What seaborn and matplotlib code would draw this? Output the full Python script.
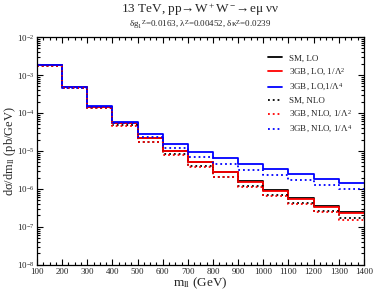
import numpy as np
import pandas as pd
import matplotlib
matplotlib.use("Agg")
import matplotlib.pyplot as plt
import matplotlib.ticker as mticker
import seaborn as sns

# bin edges in m_ll (GeV)
EDGES = [100, 200, 300, 400, 500, 600, 700, 800, 900, 1000, 1100, 1200, 1300, 1400]

# dsigma/dm_ll per bin (pb/GeV)
SM_LO = [1.85e-3, 4.75e-4, 1.48e-4, 5.4e-5, 2.2e-5, 1.0e-5, 5.2e-6, 2.85e-6, 1.6e-6, 9.5e-7, 5.75e-7, 3.6e-7, 2.45e-7]
GB_LO_2 = [1.83e-3, 4.74e-4, 1.47e-4, 5.36e-5, 2.16e-5, 9.8e-6, 5.05e-6, 2.75e-6, 1.53e-6, 9.0e-7, 5.45e-7, 3.42e-7, 2.3e-7]
GB_LO_4 = [1.85e-3, 4.8e-4, 1.52e-4, 5.9e-5, 2.8e-5, 1.56e-5, 9.6e-6, 6.43e-6, 4.55e-6, 3.3e-6, 2.48e-6, 1.87e-6, 1.47e-6]
SM_NLO = [1.78e-3, 4.5e-4, 1.34e-4, 4.7e-5, 1.75e-5, 8.1e-6, 3.95e-6, 2.1e-6, 1.2e-6, 7.0e-7, 4.15e-7, 2.6e-7, 1.7e-7]
GB_NLO_2 = [1.77e-3, 4.47e-4, 1.33e-4, 4.63e-5, 1.72e-5, 8.0e-6, 3.87e-6, 2.03e-6, 1.15e-6, 6.66e-7, 3.95e-7, 2.44e-7, 1.53e-7]
GB_NLO_4 = [1.8e-3, 4.6e-4, 1.45e-4, 5.4e-5, 2.3e-5, 1.18e-5, 7.1e-6, 4.55e-6, 3.16e-6, 2.33e-6, 1.73e-6, 1.3e-6, 1.0e-6]

SERIES = [
    ("SM, LO", SM_LO, "black", "-"),
    ("3GB, LO, 1/Λ$^2$", GB_LO_2, "#ff0000", "-"),
    ("3GB, LO,1/Λ$^4$", GB_LO_4, "#0000ff", "-"),
    ("SM, NLO", SM_NLO, "black", ":"),
    ("3GB, NLO, 1/Λ$^2$", GB_NLO_2, "#ff0000", ":"),
    ("3GB, NLO, 1/Λ$^4$", GB_NLO_4, "#0000ff", ":"),
]


def make_steps(vals):
    # repeat last value so steps-post reaches the last edge
    return pd.DataFrame({"m": EDGES, "v": list(vals) + [vals[-1]]})


sns.set_theme(style="ticks")
plt.rcParams["font.family"] = ["Liberation Serif", "DejaVu Serif"]
plt.rcParams["mathtext.fontset"] = "custom"
plt.rcParams["mathtext.rm"] = "Liberation Serif"
plt.rcParams["mathtext.it"] = "Liberation Serif:italic"
plt.rcParams["mathtext.default"] = "regular"

fig = plt.figure(figsize=(3.74, 2.94), dpi=100)
ax = fig.add_axes([0.099, 0.099, 0.874, 0.775])

for label, vals, color, ls in SERIES:
    sns.lineplot(data=make_steps(vals), x="m", y="v", ax=ax, color=color,
                 linestyle=ls, linewidth=1.3, drawstyle="steps-post",
                 estimator=None, label=label)

ax.set_yscale("log")
ax.set_xlim(100, 1400)
ax.set_ylim(1e-8, 1e-2)

ax.xaxis.set_major_locator(mticker.MultipleLocator(100))
ax.xaxis.set_minor_locator(mticker.MultipleLocator(25))
ax.yaxis.set_major_locator(mticker.LogLocator(base=10, numticks=10))
ax.yaxis.set_minor_locator(mticker.LogLocator(base=10, subs=np.arange(2, 10), numticks=10))
ax.yaxis.set_major_formatter(mticker.LogFormatterMathtext())
ax.yaxis.set_minor_formatter(mticker.NullFormatter())

ax.tick_params(which="both", direction="in", top=True, right=True, color="black", width=0.8)
ax.tick_params(which="major", length=4, labelsize=6.5, pad=2)
ax.tick_params(which="minor", length=2)
for sp in ax.spines.values():
    sp.set_color("black")
    sp.set_linewidth(0.9)

ax.set_xlabel("m$_{ll}$ (GeV)", fontsize=9.5)
ax.set_ylabel("dσ/dm$_{ll}$ (pb/GeV)", fontsize=9)
ax.xaxis.set_label_coords(0.5, -0.048)
ax.yaxis.set_label_coords(-0.058, 0.5)

fig.text(0.535, 0.966, "13 TeV, pp→W$^+$W$^-$→eμ νν",
         ha="center", va="center", fontsize=9.5)
fig.text(0.535, 0.917,
         "δg$_1$$^Z$=0.0163, λ$^Z$=0.00452, δκ$^Z$=0.0239",
         ha="center", va="center", fontsize=6.5)

ax.legend(loc="upper right", bbox_to_anchor=(0.99, 0.96), frameon=False, fontsize=6.5,
          handlelength=1.6, handletextpad=0.8, labelspacing=0.42)

fig.savefig("out.png", dpi=100)
